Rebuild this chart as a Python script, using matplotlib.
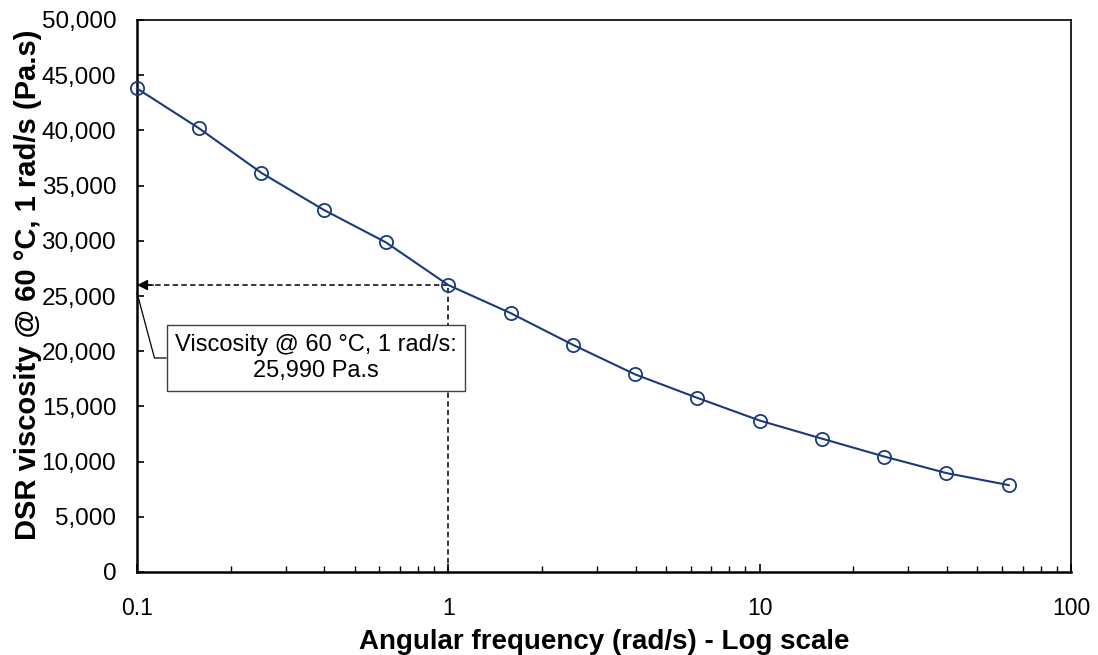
import matplotlib
matplotlib.use("Agg")
import matplotlib.pyplot as plt
from matplotlib.ticker import FuncFormatter, LogLocator, NullFormatter, FixedLocator

plt.rcParams['font.family'] = ['Liberation Sans', 'DejaVu Sans']

# Data
frequency = [0.1, 0.158, 0.251, 0.398, 0.631, 1.0, 1.585, 2.512, 3.981, 6.31,
             10.0, 15.85, 25.12, 39.81, 63.1]
viscosity = [43800, 40200, 36150, 32800, 29850, 25990, 23450, 20580, 17900, 15770,
             13720, 12080, 10460, 8960, 7870]
ref_freq = 1.0
ref_visc = 25990
x_ticks = [0.1, 1, 10, 100]
x_tick_labels = ['0.1', '1', '10', '100']
y_ticks = list(range(0, 50001, 5000))

navy = '#1B3A7A'

fig = plt.figure(figsize=(10.98, 6.55), dpi=100)
ax = fig.add_axes([137/1098, 1 - 572/655, 934/1098, 552/655])

ax.set_xscale('log')
ax.set_xlim(0.1, 100)
ax.set_ylim(0, 50000)

# reference dashed lines
ax.plot([ref_freq, x_ticks[0]], [ref_visc, ref_visc], color='black', lw=1.1,
        linestyle=(0, (3.5, 2.2)), zorder=2)
ax.plot([ref_freq, ref_freq], [0, ref_visc], color='black', lw=1.1,
        linestyle=(0, (3.5, 2.2)), zorder=2)
ax.annotate('', xy=(x_ticks[0], ref_visc), xytext=(0.113, ref_visc),
            arrowprops=dict(arrowstyle='-|>', color='black', lw=1.0,
                            mutation_scale=16, shrinkA=0, shrinkB=0), zorder=3)

# data series
ax.plot(frequency, viscosity, color=navy, lw=1.5, marker='o', markersize=9.5,
        markerfacecolor='none', markeredgecolor=navy, markeredgewidth=1.3,
        zorder=4, clip_on=False)

# callout
ax.annotate('Viscosity @ 60 °C, 1 rad/s:\n25,990 Pa.s',
            xy=(x_ticks[0], ref_visc - 700), xycoords='data',
            xytext=(316, 655 - 358), textcoords='figure pixels',
            ha='center', va='center', fontsize=17, linespacing=1.26,
            bbox=dict(boxstyle='square,pad=0.36', fc='white', ec='#404040', lw=1.0),
            arrowprops=dict(arrowstyle='-', color='black', lw=0.9,
                            connectionstyle='angle,angleA=0,angleB=-75,rad=0',
                            relpos=(0, 0.5), shrinkA=0, shrinkB=0),
            zorder=5)

# axes styling
for side in ['left', 'bottom']:
    ax.spines[side].set_linewidth(1.8)
for side in ['top', 'right']:
    ax.spines[side].set_linewidth(1.2)

ax.set_yticks(y_ticks)
ax.yaxis.set_major_formatter(FuncFormatter(lambda v, p: f'{v:,.0f}'))
ax.tick_params(axis='y', direction='in', length=5, width=1.2, labelsize=17.5, pad=15)

ax.xaxis.set_major_locator(FixedLocator(x_ticks))
ax.set_xticklabels(x_tick_labels)
ax.xaxis.set_minor_locator(LogLocator(base=10, subs=range(2, 10)))
ax.xaxis.set_minor_formatter(NullFormatter())
ax.tick_params(axis='x', which='major', direction='in', length=6, width=1.2,
               labelsize=16.5, pad=18)
ax.tick_params(axis='x', which='minor', direction='in', length=4, width=1.0)

ax.set_xlabel('Angular frequency (rad/s) - Log scale', fontsize=20, fontweight='bold')
ax.set_ylabel('DSR viscosity @ 60 °C, 1 rad/s (Pa.s)', fontsize=21, fontweight='bold')
ax.yaxis.set_label_coords(-(137 - 42) / 934, (572 - 285) / 552)
ax.xaxis.set_label_coords(0.5, -(629 - 572) / 552)

fig.savefig('out.png', dpi=100)
